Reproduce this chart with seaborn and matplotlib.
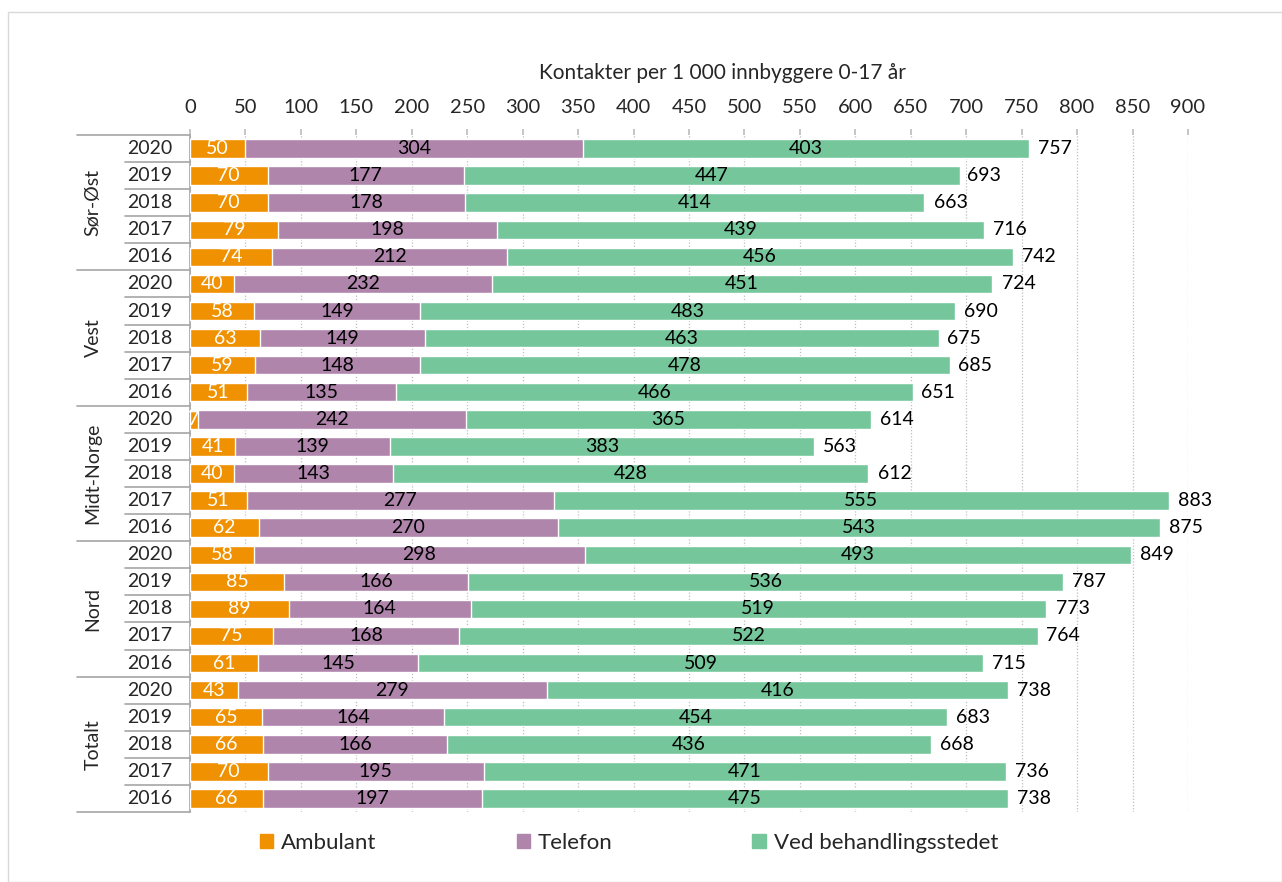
import matplotlib
matplotlib.use("Agg")
import matplotlib.pyplot as plt
import seaborn as sns
import pandas as pd
import numpy as np
from matplotlib.patches import Rectangle
from matplotlib.lines import Line2D

regions = ["Sør-Øst", "Vest", "Midt-Norge", "Nord", "Totalt"]
years = ["2020", "2019", "2018", "2017", "2016"]
ambulant = [50, 70, 70, 79, 74,
            40, 58, 63, 59, 51,
            7, 41, 40, 51, 62,
            58, 85, 89, 75, 61,
            43, 65, 66, 70, 66]
telefon = [304, 177, 178, 198, 212,
           232, 149, 149, 148, 135,
           242, 139, 143, 277, 270,
           298, 166, 164, 168, 145,
           279, 164, 166, 195, 197]
ved = [403, 447, 414, 439, 456,
       451, 483, 463, 478, 466,
       365, 383, 428, 555, 543,
       493, 536, 519, 522, 509,
       416, 454, 436, 471, 475]
totals = [757, 693, 663, 716, 742,
          724, 690, 675, 685, 651,
          614, 563, 612, 883, 875,
          849, 787, 773, 764, 715,
          738, 683, 668, 736, 738]
series_names = ["Ambulant", "Telefon", "Ved behandlingsstedet"]
colors = ["#EF9100", "#B085AC", "#76C69C"]

sns.set_theme(style="white")
FONT = ["Lato", "DejaVu Sans"]
plt.rcParams["font.family"] = FONT

n = len(ambulant)
rows = [f"r{i}" for i in range(n)]
a = np.array(ambulant)
t = np.array(telefon)
v = np.array(ved)
df = pd.DataFrame({"row": rows, "amb": a, "amb_tel": a + t, "all": a + t + v})

W, H = 1282, 882
fig = plt.figure(figsize=(W / 100, H / 100), dpi=100)
x0, x1, y0, y1 = 190, 1188, 135, 812
ax = fig.add_axes([x0 / W, 1 - y1 / H, (x1 - x0) / W, (y1 - y0) / H])

bw = 0.68
sns.barplot(data=df, y="row", x="all", orient="h", color=colors[2], width=bw,
            ax=ax, saturation=1, order=rows, zorder=3)
sns.barplot(data=df, y="row", x="amb_tel", orient="h", color=colors[1], width=bw,
            ax=ax, saturation=1, order=rows, zorder=3)
sns.barplot(data=df, y="row", x="amb", orient="h", color=colors[0], width=bw,
            ax=ax, saturation=1, order=rows, zorder=3)

ax.set_xlim(0, 900)
ax.set_ylim(n - 0.5, -0.5)
ax.set_xticks(np.arange(0, 901, 50))
ax.xaxis.tick_top()
ax.xaxis.set_label_position("top")
ax.tick_params(axis="x", labelsize=14.5, length=4, color="#BFBFBF", pad=10, top=True, bottom=False)
ax.set_xlabel("Kontakter per 1 000 innbyggere 0-17 år", fontsize=15)
ax.xaxis.set_label_coords((722 - x0) / (x1 - x0), (y1 - 73) / (y1 - y0))
ax.xaxis.label.set_va("center")
ax.set_ylabel("")
ax.set_yticks([])
ax.grid(axis="x", color="#BFBFBF", linestyle=(0, (1, 1.5)), linewidth=0.9, zorder=0)
for s in ["right", "bottom", "top"]:
    ax.spines[s].set_visible(False)
ax.spines["left"].set_color("#A6A6A6")
ax.spines["left"].set_linewidth(1.2)

fs = 14
for i in range(n):
    ax.text(a[i] / 2, i, str(ambulant[i]), ha="center", va="center", color="white", fontsize=fs, zorder=5)
    ax.text(a[i] + t[i] / 2, i, str(telefon[i]), ha="center", va="center", color="black", fontsize=fs, zorder=5)
    ax.text(a[i] + t[i] + v[i] / 2, i, str(ved[i]), ha="center", va="center", color="black", fontsize=fs, zorder=5)
    ax.text(totals[i] + 8, i, str(totals[i]), ha="left", va="center", color="black", fontsize=fs,
            zorder=5, clip_on=False)

# category labels
ytr = ax.get_yaxis_transform()
xg = (77 - x0) / (x1 - x0)
xy = (125 - x0) / (x1 - x0)
xyear = (172 - x0) / (x1 - x0)
xreg = (93 - x0) / (x1 - x0)
for i in range(n):
    ax.text(xyear, i, years[i % 5], transform=ytr, ha="right", va="center", fontsize=fs, clip_on=False)
for g, reg in enumerate(regions):
    ax.text(xreg, g * 5 + 2, reg, transform=ytr, ha="center", va="center", rotation=90,
            fontsize=fs, clip_on=False)
for b in range(n + 1):
    yb = b - 0.5
    xs = xg if b % 5 == 0 else xy
    ax.add_line(Line2D([xs, 0], [yb, yb], transform=ytr, color="#A6A6A6", lw=1.2, clip_on=False))

# legend
handles = [Rectangle((0, 0), 1, 1, color=c) for c in colors]
leg = fig.legend(handles, series_names, loc="center", bbox_to_anchor=(629 / W, 1 - 843 / H),
                 ncol=3, frameon=False, fontsize=16, handlelength=0.6, handleheight=0.6,
                 handletextpad=0.35, columnspacing=6.3)

# chart border
fig.patches.append(Rectangle((8 / W, 0), 1 - 8 / W, 1 - 12 / H, transform=fig.transFigure,
                             fill=False, edgecolor="#D9D9D9", lw=1.0))

fig.savefig("out.png", dpi=100)
